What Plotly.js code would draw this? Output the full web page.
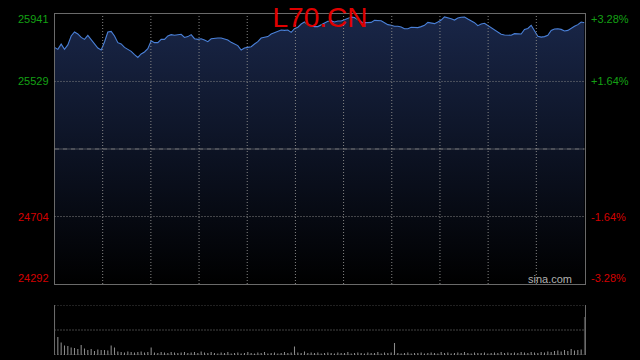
<!DOCTYPE html>
<html><head><meta charset="utf-8">
<script src="https://cdn.plot.ly/plotly-3.0.1.min.js"></script>
<style>html,body{margin:0;padding:0;background:#000;}#chart{width:640px;height:360px;}</style>
</head><body><div id="chart"></div>
<script>
const symbolName = 'L70.CN';
const prevClose = 25116.5;
const priceLow = 24292;
const priceHigh = 25941;
const leftTickVals = [25941, 25529, 24704, 24292];
const leftTickText = ['25941', '25529', '24704', '24292'];
const rightTickText = ['+3.28%', '+1.64%', '-1.64%', '-3.28%'];
const prices = [
25737,25725,25757,25725,25752,25807,25831,25819,25798,25786,
25811,25786,25758,25733,25721,25770,25831,25835,25807,25766,
25758,25737,25725,25713,25693,25676,25697,25709,25729,25778,
25766,25766,25786,25786,25807,25815,25811,25815,25817,25798,
25803,25815,25790,25786,25790,25782,25772,25790,25794,25794,
25794,25790,25782,25768,25758,25748,25721,25733,25737,25741,
25758,25772,25794,25798,25803,25819,25827,25831,25843,25841,
25843,25829,25851,25860,25880,25892,25874,25872,25864,25864,
25874,25884,25896,25900,25892,25898,25898,25906,25917,25923,
25919,25906,25892,25888,25888,25890,25902,25902,25900,25888,
25876,25872,25866,25866,25862,25851,25851,25860,25858,25858,
25864,25872,25890,25884,25882,25892,25904,25923,25919,25912,
25904,25917,25921,25923,25910,25898,25888,25870,25880,25884,
25870,25860,25847,25833,25817,25813,25811,25811,25821,25821,
25819,25847,25853,25872,25835,25805,25800,25803,25811,25841,
25849,25851,25847,25837,25841,25855,25866,25876,25892,25888
];
const volumes = [
100,36,25,19,18,15,14,12,20,13,10,12,8,11,10,10,9,19,15,7,
6,5,7,6,5,6,7,5,6,15,5,4,6,5,4,6,5,4,5,6,
4,5,6,4,7,5,4,6,4,3,5,4,6,3,4,5,3,4,6,4,
3,5,4,6,3,4,5,3,4,6,4,5,17,5,4,7,4,5,4,5,
3,4,5,4,3,5,4,4,6,3,4,5,4,3,5,4,4,6,3,5,
4,5,24,4,3,4,5,3,4,4,5,3,4,5,4,3,6,4,5,3,
4,5,4,6,4,3,5,4,4,5,3,4,5,4,6,4,5,4,5,4,
6,5,4,6,5,4,6,5,7,6,8,9,7,10,8,12,9,10,11,76
];

const idx = prices.map((_, i) => i);
const n = prices.length;
const gridVals = [];
for (let k = 1; k < 11; k++) gridVals.push(k * (n - 1) / 11);
const volMax = Math.max(...volumes);

const GREEN = '#14a014', RED = '#d40000', GRID = '#858585', BORDER = '#6a6a6a';
const FONT = '"Liberation Sans", Arial, sans-serif';
const DOT = '1px,2px';

const traces = [
  {
    x: idx, y: prices, type: 'scatter', mode: 'lines',
    line: {color: '#4a80d8', width: 1.1},
    fill: 'tozeroy',
    fillgradient: {type: 'vertical', start: priceLow, stop: priceHigh,
      colorscale: [[0, '#000000'], [1, '#192648']]},
    xaxis: 'x', yaxis: 'y', hoverinfo: 'skip'
  },
  {
    x: idx, y: volumes, type: 'bar',
    marker: {color: '#8a8a8a', line: {width: 0}},
    width: 0.32,
    xaxis: 'x2', yaxis: 'y2', hoverinfo: 'skip'
  }
];

const shapes = [];
gridVals.forEach(v => shapes.push({type: 'line', layer: 'above', xref: 'x', yref: 'y domain',
  x0: v, x1: v, y0: 0, y1: 1, line: {color: GRID, width: 1, dash: DOT}}));
[leftTickVals[1], leftTickVals[2]].forEach(v => shapes.push({type: 'line', layer: 'above', xref: 'x domain', yref: 'y',
  x0: 0, x1: 1, y0: v, y1: v, line: {color: GRID, width: 1, dash: DOT}}));
shapes.push({type: 'line', layer: 'above', xref: 'x domain', yref: 'y', x0: 0, x1: 1, y0: prevClose, y1: prevClose,
  line: {color: '#8a8a8a', width: 1, dash: '5px,1px,1px,1px'}});
[0, volMax / 2, volMax].forEach(v => shapes.push({type: 'line', layer: 'below', xref: 'x2 domain', yref: 'y2',
  x0: 0, x1: 1, y0: v, y1: v, line: {color: GRID, width: 1, dash: DOT}}));

const annotations = [];
leftTickVals.forEach((v, i) => {
  const col = v > prevClose ? GREEN : RED;
  const shift = i === 0 ? -5 : (i === leftTickVals.length - 1 ? 6 : 0);
  annotations.push({xref: 'paper', yref: 'y', x: 51 / 640, y: v, xanchor: 'right', yanchor: 'middle',
    text: leftTickText[i], showarrow: false, yshift: shift, font: {family: FONT, size: 11, color: col}});
  annotations.push({xref: 'paper', yref: 'y', x: 589 / 640, y: v, xanchor: 'left', yanchor: 'middle',
    text: rightTickText[i], showarrow: false, yshift: shift, font: {family: FONT, size: 11, color: col}});
});
annotations.push({xref: 'paper', yref: 'paper', x: 574 / 640, y: (360 - 279) / 360, xanchor: 'right', yanchor: 'middle',
  text: 'sina.com', showarrow: false, font: {family: FONT, size: 11, color: '#b0b0b0'}});

const xDom = [54.5 / 640, 584.5 / 640];
const layout = {
  width: 640, height: 360,
  margin: {l: 0, r: 0, t: 0, b: 0},
  paper_bgcolor: '#000', plot_bgcolor: '#000',
  showlegend: false,
  title: {text: symbolName, x: 0.5, xanchor: 'center', y: 1 - 17 / 360, yanchor: 'middle',
    font: {family: FONT, size: 28, color: '#e00000'}},
  xaxis: {domain: xDom, range: [0, n - 1], showticklabels: false, ticks: '',
    showgrid: false, zeroline: false,
    showline: true, mirror: true, linecolor: BORDER, linewidth: 1, fixedrange: true},
  yaxis: {domain: [(360 - 284) / 360, (360 - 14) / 360], range: [priceLow, priceHigh],
    showticklabels: false, ticks: '', showgrid: false, zeroline: false,
    showline: true, mirror: true, linecolor: BORDER, linewidth: 1, fixedrange: true},
  xaxis2: {domain: xDom, range: [0, n - 1], anchor: 'y2', showticklabels: false, ticks: '',
    showgrid: false, zeroline: false, showline: false, fixedrange: true},
  yaxis2: {domain: [(360 - 355) / 360, (360 - 305) / 360], anchor: 'x2', range: [0, volMax],
    showticklabels: false, ticks: '', showgrid: false, zeroline: false,
    showline: true, mirror: true, linecolor: BORDER, linewidth: 1, fixedrange: true},
  shapes: shapes,
  annotations: annotations
};

Plotly.newPlot('chart', traces, layout, {staticPlot: true, displayModeBar: false});
</script>
</body></html>
